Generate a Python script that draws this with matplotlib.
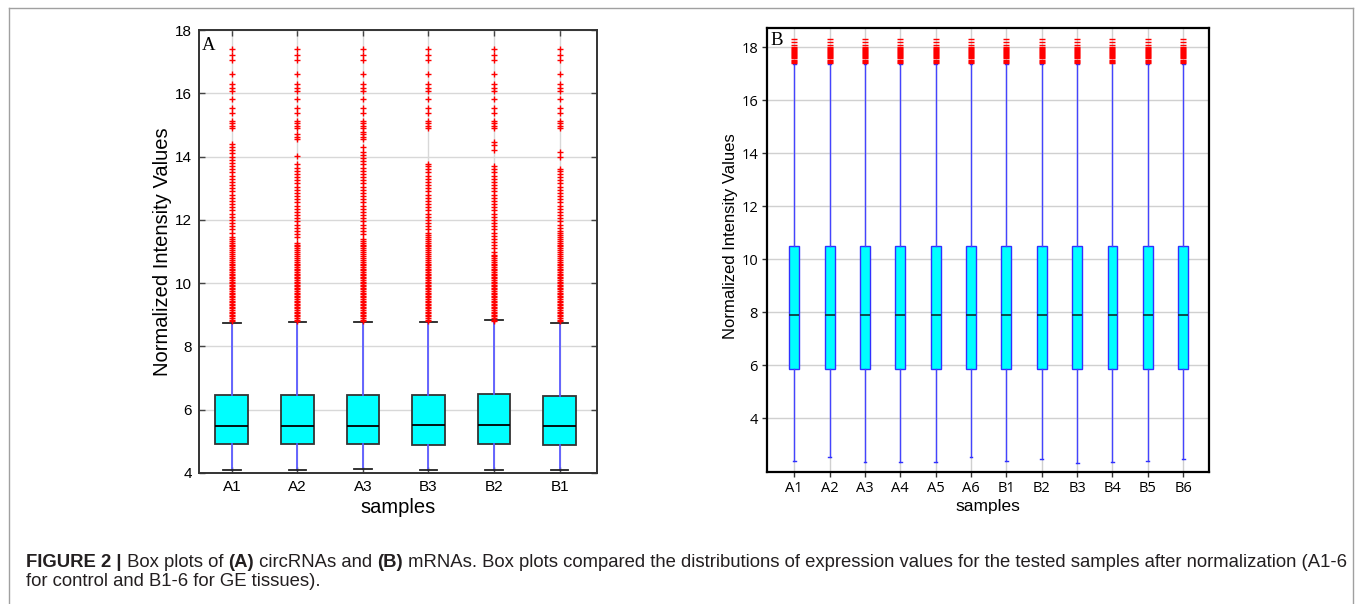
import matplotlib
matplotlib.use("Agg")
import matplotlib.pyplot as plt
from matplotlib.lines import Line2D

# ---------------- data ----------------
# Panel A (circRNAs)
a_samples = ["A1", "A2", "A3", "B3", "B2", "B1"]
a_whislo = [4.08, 4.08, 4.12, 4.10, 4.08, 4.08]
a_q1 = [4.92, 4.92, 4.92, 4.90, 4.93, 4.89]
a_med = [5.48, 5.50, 5.48, 5.52, 5.52, 5.48]
a_q3 = [6.46, 6.47, 6.47, 6.46, 6.49, 6.44]
a_whishi = [8.75, 8.77, 8.78, 8.78, 8.82, 8.75]

# outliers shared by every circRNA sample (sparse top part)
a_top_fliers = [17.40, 17.22, 17.05, 16.61, 16.29, 16.16, 16.08, 15.81, 15.54,
                15.39, 15.13, 15.05, 14.97, 14.89]
# dense lower part, shared
a_dense_fliers = [8.80, 8.85, 8.90, 8.95, 9.00, 9.05, 9.10, 9.15, 9.20, 9.25, 9.30,
                  9.35, 9.40, 9.45, 9.50, 9.55, 9.60, 9.65, 9.70, 9.75, 9.80,
                  9.85, 9.90, 9.95, 10.00, 10.05, 10.10, 10.15, 10.20, 10.25,
                  10.30, 10.35, 10.40, 10.45]
# sample-specific middle outliers
a_mid_fliers = [
    [10.50, 10.56, 10.62, 10.68, 10.74, 10.80, 10.86, 10.92, 10.98, 11.04, 11.10,
     11.16, 11.22, 11.28, 11.34, 11.40, 11.46, 11.6, 11.7, 11.8, 11.9, 12.0, 12.1,
     12.2, 12.3, 12.4, 12.5, 12.6, 12.7, 12.8, 12.9, 13.0, 13.1, 13.2, 13.3, 13.4,
     13.5, 13.6, 13.7, 13.8, 13.9, 14.0, 14.1, 14.2, 14.3, 14.4],
    [10.50, 10.56, 10.62, 10.68, 10.74, 10.80, 10.86, 10.92, 10.98, 11.04, 11.10,
     11.16, 11.22, 11.28, 11.45, 11.55, 11.65, 11.75, 11.85, 11.95, 12.05, 12.15,
     12.25, 12.35, 12.45, 12.55, 12.65, 12.75, 12.85, 12.95, 13.05, 13.15, 13.25,
     13.35, 13.45, 13.55, 13.65, 13.75, 14.02, 14.55, 14.62, 14.70],
    [10.50, 10.56, 10.62, 10.68, 10.74, 10.80, 10.86, 10.92, 10.98, 11.04, 11.10,
     11.16, 11.22, 11.28, 11.34, 11.40, 11.55, 11.65, 11.75, 11.85, 11.95, 12.05,
     12.15, 12.25, 12.35, 12.45, 12.55, 12.65, 12.75, 12.85, 12.95, 13.05, 13.15,
     13.25, 13.35, 13.45, 13.55, 13.65, 13.75, 13.85, 13.95, 14.05, 14.15, 14.30,
     14.55, 14.62, 14.70, 14.78],
    [10.50, 10.56, 10.62, 10.68, 10.74, 10.80, 10.86, 10.92, 10.98, 11.04, 11.10,
     11.16, 11.22, 11.28, 11.34, 11.40, 11.46, 11.52, 11.58, 11.70, 11.80, 11.90,
     12.00, 12.10, 12.20, 12.30, 12.40, 12.50, 12.60, 12.70, 12.80, 12.90, 13.00,
     13.10, 13.20, 13.30, 13.40, 13.50, 13.60, 13.70, 13.75],
    [10.50, 10.56, 10.62, 10.68, 10.74, 10.80, 10.86, 10.90, 11.00, 11.10, 11.20,
     11.30, 11.40, 11.50, 11.60, 11.70, 11.80, 11.90, 12.00, 12.10, 12.20, 12.30,
     12.40, 12.50, 12.60, 12.70, 12.80, 12.90, 13.00, 13.10, 13.20, 13.30, 13.40,
     13.50, 13.60, 13.70, 14.20, 14.35, 14.45],
    [10.50, 10.56, 10.62, 10.68, 10.74, 10.80, 10.86, 10.92, 10.98, 11.04, 11.10,
     11.16, 11.22, 11.28, 11.34, 11.40, 11.46, 11.52, 11.58, 11.65, 11.75, 11.85,
     11.95, 12.05, 12.15, 12.25, 12.35, 12.45, 12.55, 12.65, 12.75, 12.85, 12.95,
     13.05, 13.15, 13.25, 13.35, 13.45, 13.55, 13.60, 14.00, 14.15],
]

# Panel B (mRNAs)
b_samples = ["A1", "A2", "A3", "A4", "A5", "A6", "B1", "B2", "B3", "B4", "B5", "B6"]
b_whislo = [2.39, 2.55, 2.34, 2.34, 2.34, 2.52, 2.39, 2.45, 2.31, 2.34, 2.39, 2.45]
b_q1 = [5.87] * 12
b_med = [7.91] * 12
b_q3 = [10.49] * 12
b_whishi = [17.37, 17.37, 17.37, 17.37, 17.37, 17.37, 17.37, 17.37, 17.37, 17.40,
            17.37, 17.37]
b_fliers = [17.42, 17.46, 17.50, 17.54, 17.58, 17.62, 17.66, 17.70, 17.74, 17.78,
            17.82, 17.86, 17.90, 17.94, 17.98, 18.01, 18.10, 18.20, 18.30]

# ---------------- figure ----------------
W, H = 1355, 604
fig = plt.figure(figsize=(W / 100, H / 100), dpi=100)
fig.patch.set_facecolor("white")

SANS = ["Liberation Sans", "DejaVu Sans"]
SERIF = ["Liberation Serif", "DejaVu Serif"]

# frame around the figure panel
frame_col = "#a0a0a0"
fig.add_artist(Line2D([9 / W, 9 / W], [0, 1 - 8 / H], transform=fig.transFigure,
                      color=frame_col, lw=1.0))
fig.add_artist(Line2D([9 / W, 1353 / W], [1 - 8 / H, 1 - 8 / H],
                      transform=fig.transFigure, color=frame_col, lw=1.0))
fig.add_artist(Line2D([1353 / W, 1353 / W], [0, 1 - 8 / H],
                      transform=fig.transFigure, color=frame_col, lw=1.0))

# ---------- Panel A ----------
axA = fig.add_axes([199 / W, 1 - 473 / H, 398 / W, 443 / H])
statsA = []
for i, name in enumerate(a_samples):
    statsA.append(dict(label=name, whislo=a_whislo[i], q1=a_q1[i], med=a_med[i],
                       q3=a_q3[i], whishi=a_whishi[i],
                       fliers=a_dense_fliers + a_mid_fliers[i] + a_top_fliers))
posA = list(range(1, len(a_samples) + 1))
axA.bxp(statsA, positions=posA, widths=0.5, patch_artist=True,
        boxprops=dict(facecolor="#00ffff", edgecolor="#333333", linewidth=1.3),
        medianprops=dict(color="black", linewidth=1.3),
        whiskerprops=dict(color="#5a5aff", linewidth=1.3),
        capprops=dict(color="#222222", linewidth=1.3),
        capwidths=0.27,
        flierprops=dict(marker="+", markersize=4.0, markeredgecolor="red",
                        markeredgewidth=1.0, linestyle="none"),
        zorder=3)
axA.set_xlim(0.5, 6.57)
axA.set_ylim(4, 18)
axA.set_yticks([4, 6, 8, 10, 12, 14, 16, 18])
axA.set_xticks(posA)
axA.set_xticklabels(a_samples)
axA.grid(True, color="#d8d8d8", linewidth=1.0, zorder=0)
axA.set_axisbelow(True)
axA.tick_params(direction="in", length=4, width=1, color="#444444",
                top=True, right=True, labelsize=11, pad=5)
for lab in axA.get_xticklabels() + axA.get_yticklabels():
    lab.set_family(SANS)
for s in axA.spines.values():
    s.set_color("#333333")
    s.set_linewidth(1.4)
axA.set_ylabel("Normalized Intensity Values", family=SANS, fontsize=14.5)
axA.yaxis.set_label_coords(-0.068, 0.5)
axA.set_xlabel("samples", family=SANS, fontsize=14.5, labelpad=3)
axA.text(0.008, 0.985, "A", transform=axA.transAxes, family=SERIF, fontsize=13.5,
         va="top", ha="left")

# ---------- Panel B ----------
axB = fig.add_axes([767 / W, 1 - 472 / H, 442 / W, 444 / H])
statsB = []
for i, name in enumerate(b_samples):
    statsB.append(dict(label=name, whislo=b_whislo[i], q1=b_q1[i], med=b_med[i],
                       q3=b_q3[i], whishi=b_whishi[i], fliers=b_fliers))
posB = list(range(1, len(b_samples) + 1))
axB.bxp(statsB, positions=posB, widths=0.28, patch_artist=True,
        boxprops=dict(facecolor="#00ffff", edgecolor="#3030ff", linewidth=1.0),
        medianprops=dict(color="#103030", linewidth=1.2),
        whiskerprops=dict(color="#4444ff", linewidth=1.0),
        capprops=dict(color="#3030ff", linewidth=1.0),
        capwidths=0.08,
        flierprops=dict(marker="_", markersize=4.3, markeredgecolor="red",
                        markeredgewidth=1.0, linestyle="none"),
        zorder=3)
axB.set_xlim(0.23, 12.73)
axB.set_ylim(1.97, 18.73)
axB.set_yticks([4, 6, 8, 10, 12, 14, 16, 18])
axB.set_xticks(posB)
axB.set_xticklabels(b_samples)
axB.grid(True, color="#d0d0d0", linewidth=1.0, zorder=0)
axB.set_axisbelow(True)
axB.tick_params(direction="out", length=3.5, width=1, color="#333333",
                labelsize=10.5, pad=3)
for lab in axB.get_xticklabels() + axB.get_yticklabels():
    lab.set_family(["Open Sans", "DejaVu Sans"])
for s in axB.spines.values():
    s.set_color("black")
    s.set_linewidth(1.6)
axB.set_ylabel("Normalized Intensity Values", family=SANS, fontsize=12)
axB.yaxis.set_label_coords(-0.066, 0.532)
axB.set_xlabel("samples", family=SANS, fontsize=12.5, labelpad=2)
axB.text(0.008, 0.99, "B", transform=axB.transAxes, family=SERIF, fontsize=13.5,
         va="top", ha="left")

# ---------- caption ----------
cap_color = "#231f20"
CAP_FAMILY = ["Liberation Sans", "DejaVu Sans"]
line1 = [("FIGURE 2 |", "bold"), (" Box plots of ", "normal"), ("(A)", "bold"),
         (" circRNAs and ", "normal"), ("(B)", "bold"),
         (" mRNAs. Box plots compared the distributions of expression values for the "
          "tested samples after normalization (A1-6", "normal")]
line2 = "for control and B1-6 for GE tissues)."

renderer = fig.canvas.get_renderer()
x0 = 26
target_width = 1350 - x0

# measure at a trial size, then scale so line 1 spans the caption width
trial = 10.0
total = 0.0
for txt, wgt in line1:
    t = fig.text(0, 0, txt, family=CAP_FAMILY, fontsize=trial, weight=wgt)
    total += t.get_window_extent(renderer=renderer).width
    t.remove()
cap_size = trial * target_width / total

x = x0
y1 = H - 567
for txt, wgt in line1:
    t = fig.text(x / W, y1 / H, txt, family=CAP_FAMILY, fontsize=cap_size,
                 weight=wgt, color=cap_color, va="baseline", ha="left")
    x += t.get_window_extent(renderer=renderer).width
fig.text(x0 / W, (H - 586) / H, line2, family=CAP_FAMILY, fontsize=cap_size,
         color=cap_color, va="baseline", ha="left")

fig.savefig("out.png", dpi=100)
